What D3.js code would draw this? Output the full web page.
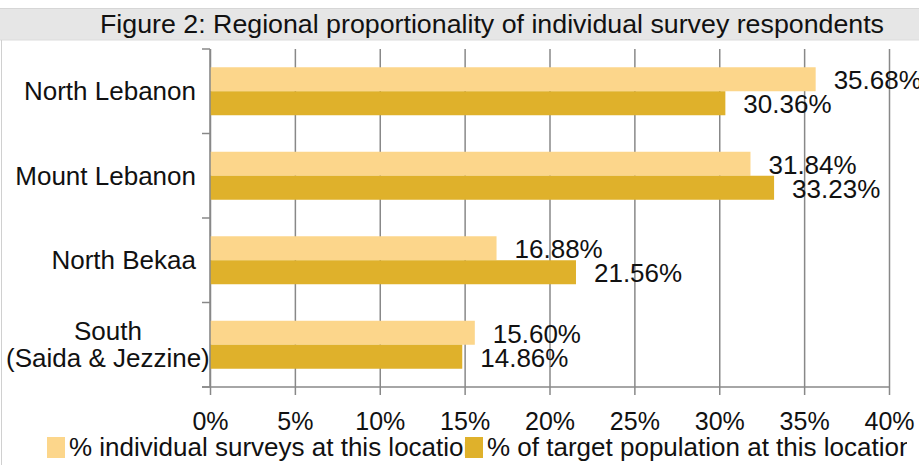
<!DOCTYPE html>
<html>
<head>
<meta charset="utf-8">
<script src="https://cdn.jsdelivr.net/npm/d3@7"></script>
<style>
  html, body { margin: 0; padding: 0; background: #fff; }
  svg { display: block; font-family: "Liberation Sans", Arial, sans-serif; }
</style>
</head>
<body>
<svg id="chart" width="919" height="465"></svg>
<script>
// Regions (top to bottom) and the two series shown for each
const regions = ["North Lebanon", "Mount Lebanon", "North Bekaa", "South\n(Saida & Jezzine)"];
const surveyShare = [35.68, 31.84, 16.88, 15.60];
const populationShare = [30.36, 33.23, 21.56, 14.86];
const seriesNames = ["% individual surveys at this location", "% of target population at this location"];
const xTicks = [0, 5, 10, 15, 20, 25, 30, 35, 40];
const title = "Figure 2: Regional proportionality of individual survey respondents";

const colors = ["#FCD68B", "#DFB12B"];
const gridColor = "#888888";

const W = 919, H = 465;
const plot = { left: 210, right: 889, top: 49, bottom: 387 };
const fontSize = 26;

const svg = d3.select("#chart");

// Title band
svg.append("rect").attr("x", 0).attr("y", 8).attr("width", W).attr("height", 32)
  .attr("fill", "#E6E6E6");
svg.append("line").attr("x1", 0).attr("x2", W).attr("y1", 8.5).attr("y2", 8.5)
  .attr("stroke", "#D6D6D6").attr("stroke-width", 1);
svg.append("line").attr("x1", 0).attr("x2", W).attr("y1", 40).attr("y2", 40)
  .attr("stroke", "#DCDCDC").attr("stroke-width", 1);
svg.append("line").attr("x1", 1.5).attr("x2", 1.5).attr("y1", 40).attr("y2", H)
  .attr("stroke", "#D0D0D0").attr("stroke-width", 1);
svg.append("text").attr("x", 100).attr("y", 33)
  .attr("font-size", 26).attr("fill", "#111")
  .attr("textLength", 784).attr("lengthAdjust", "spacingAndGlyphs")
  .text(title);

// Scales
const x = d3.scaleLinear().domain([0, 40]).range([plot.left, plot.right]);
const y = d3.scaleBand().domain(regions).range([plot.top, plot.bottom]).padding(0);
const bw = y.bandwidth();
const ySeries = d3.scaleBand().domain([0, 1]).range([bw * 0.216, bw * 0.784]).padding(0);

// Vertical gridlines with ticks below the axis
const xAxis = d3.axisBottom(x).tickValues(xTicks).tickSize(8).tickFormat(d => d + "%");
const gx = svg.append("g").attr("transform", `translate(0,${plot.bottom})`);
gx.call(xAxis);
gx.select(".domain").remove();
gx.selectAll(".tick line").attr("stroke", gridColor).attr("stroke-width", 1.5)
  .attr("y1", -(plot.bottom - plot.top));
gx.selectAll(".tick text").attr("font-size", 25).attr("fill", "#111")
  .attr("font-family", "Liberation Sans, Arial, sans-serif")
  .attr("y", 43).attr("dy", 0);

// X axis baseline
svg.append("line").attr("x1", plot.left - 8).attr("x2", plot.right)
  .attr("y1", plot.bottom).attr("y2", plot.bottom)
  .attr("stroke", gridColor).attr("stroke-width", 1.5);

// Bars
const data = regions.map((r, i) => ({ region: r, values: [surveyShare[i], populationShare[i]] }));
const groups = svg.append("g").selectAll("g").data(data).join("g")
  .attr("transform", d => `translate(0,${y(d.region)})`);
groups.selectAll("rect").data(d => d.values.map((v, k) => ({ v, k }))).join("rect")
  .attr("x", x(0))
  .attr("y", d => ySeries(d.k))
  .attr("width", d => x(d.v) - x(0))
  .attr("height", ySeries.bandwidth())
  .attr("fill", d => colors[d.k]);

// Value labels
groups.selectAll("text.val").data(d => d.values.map((v, k) => ({ v, k }))).join("text")
  .attr("class", "val")
  .attr("x", d => x(d.v) + 18)
  .attr("y", d => ySeries(d.k) + ySeries.bandwidth() / 2 + 10)
  .attr("font-size", fontSize).attr("fill", "#111")
  .text(d => d.v.toFixed(2) + "%");

// Y axis line and category boundary ticks
svg.append("line").attr("x1", plot.left).attr("x2", plot.left)
  .attr("y1", plot.top).attr("y2", plot.bottom)
  .attr("stroke", gridColor).attr("stroke-width", 1.5);
const bounds = regions.map(r => y(r)).concat([plot.bottom]);
svg.append("g").selectAll("line").data(bounds).join("line")
  .attr("x1", plot.left - 8).attr("x2", plot.left)
  .attr("y1", d => d).attr("y2", d => d)
  .attr("stroke", gridColor).attr("stroke-width", 1.5);

// Category labels (multi-line labels are centred as a block)
const labelRight = 196, lineH = 27;
regions.forEach(r => {
  const lines = r.split("\n");
  const cy = y(r) + bw / 2;
  const t = svg.append("text").attr("font-size", fontSize).attr("fill", "#111");
  const spans = lines.map((ln, i) => t.append("tspan").text(ln)
    .attr("y", cy + 9 + (i - (lines.length - 1) / 2) * lineH));
  if (lines.length === 1) {
    t.attr("text-anchor", "end");
    spans[0].attr("x", labelRight);
  } else {
    const widths = spans.map(s => s.node().getComputedTextLength());
    const blockW = d3.max(widths);
    const cx = Math.max(blockW / 2 + 6, labelRight - blockW / 2);
    t.attr("text-anchor", "middle");
    spans.forEach(s => s.attr("x", cx));
  }
});

// Legend
const defs = svg.append("defs");
const legendItems = [
  { name: seriesNames[0], swatchX: 47, clipRight: 465 },
  { name: seriesNames[1], swatchX: 465, clipRight: 907 }
];
legendItems.forEach((d, i) => {
  defs.append("clipPath").attr("id", "legclip" + i)
    .append("rect").attr("x", d.swatchX).attr("y", 425).attr("width", d.clipRight - d.swatchX).attr("height", 40);
  const g = svg.append("g").attr("clip-path", `url(#legclip${i})`);
  g.append("text").attr("x", d.swatchX + 22).attr("y", 456)
    .attr("font-size", fontSize).attr("fill", "#111").text(d.name);
});
legendItems.forEach((d, i) => {
  svg.append("rect").attr("x", d.swatchX).attr("y", 437)
    .attr("width", 18).attr("height", 21).attr("fill", colors[i]);
});
</script>
</body>
</html>
